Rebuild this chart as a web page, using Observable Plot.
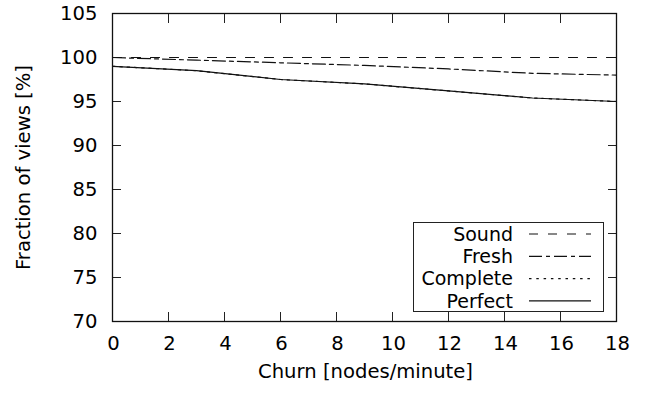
<!DOCTYPE html>
<html>
<head>
<meta charset="utf-8">
<script src="https://cdn.jsdelivr.net/npm/d3@7"></script>
<script src="https://cdn.jsdelivr.net/npm/@observablehq/plot@0.6"></script>
<style>
  html, body { margin: 0; padding: 0; background: #fff; }
  #wrap { position: relative; width: 646px; height: 394px; font-family: "DejaVu Sans", sans-serif; }
  #legend { position: absolute; left: 0; top: 0; }
</style>
</head>
<body>
<div id="wrap"></div>
<script>
// ---- data ----
const churn = [0, 3, 6, 9, 12, 15, 18];
const sound    = [100, 100, 100, 100, 100, 100, 100];
const fresh    = [100, 99.7, 99.4, 99.1, 98.7, 98.2, 98.0];
const complete = [99.0, 98.5, 97.5, 97.0, 96.2, 95.4, 95.0];
const perfect  = [99.0, 98.5, 97.5, 97.0, 96.2, 95.4, 95.0];
const seriesNames = ["Sound", "Fresh", "Complete", "Perfect"];
const seriesValues = [sound, fresh, complete, perfect];
const dashes = ["9,10", "13,4,4,4", "2.5,4.8", null];
const xTicks = [0, 2, 4, 6, 8, 10, 12, 14, 16, 18];
const yTicks = [70, 75, 80, 85, 90, 95, 100, 105];
const xLabel = "Churn [nodes/minute]";
const yLabel = "Fraction of views [%]";

const rows = [];
seriesNames.forEach((name, i) => churn.forEach((c, j) => rows.push({series: name, x: c, y: seriesValues[i][j]})));

const FS = 19.6;
const LFS = 19;
const blank = () => "";
const lineMarks = seriesNames.map((name, i) =>
  Plot.line(rows.filter(d => d.series === name), {
    x: "x", y: "y", stroke: "#111", strokeWidth: 1.2,
    strokeDasharray: dashes[i] ?? undefined
  })
);

const chart = Plot.plot({
  width: 646, height: 394,
  marginLeft: 112, marginRight: 30, marginTop: 13, marginBottom: 73,
  style: {fontFamily: "DejaVu Sans, sans-serif", fontSize: FS + "px", color: "#000", background: "#fff"},
  x: {domain: [0, 18]},
  y: {domain: [70, 105]},
  marks: [
    // labels
    Plot.axisX({ticks: xTicks, tickSize: 0, tickPadding: 15, label: null, fontSize: FS, dx: 1}),
    Plot.axisY({ticks: yTicks, tickSize: 0, tickPadding: 15, label: null, fontSize: FS}),
    // inward ticks (all four sides)
    Plot.axisX({ticks: xTicks, anchor: "bottom", tickSize: 9, dy: -9, tickFormat: blank, label: null, stroke: "#222"}),
    Plot.axisX({ticks: xTicks, anchor: "top", tickSize: 9, dy: 9, tickFormat: blank, label: null, stroke: "#222"}),
    Plot.axisY({ticks: yTicks, anchor: "left", tickSize: 9, dx: 9, tickFormat: blank, label: null, stroke: "#222"}),
    Plot.axisY({ticks: yTicks, anchor: "right", tickSize: 9, dx: -9, tickFormat: blank, label: null, stroke: "#222"}),
    ...lineMarks,
    Plot.frame({stroke: "#111", strokeWidth: 1.3}),
    Plot.text([xLabel], {frameAnchor: "bottom", dy: 56, dx: 1, fontSize: FS, fill: "#000", textAnchor: "middle"}),
    Plot.text([yLabel], {frameAnchor: "left", dx: -89, rotate: -90, fontSize: FS, fill: "#000", textAnchor: "middle"})
  ]
});
const wrap = document.getElementById("wrap");
wrap.appendChild(chart);

// ---- legend overlay ----
const leg = d3.select(wrap).append("svg")
  .attr("id", "legend").attr("width", 646).attr("height", 394)
  .style("font-family", "DejaVu Sans, sans-serif").style("font-size", LFS + "px");
leg.append("rect").attr("x", 413.5).attr("y", 222.5).attr("width", 190).attr("height", 89)
  .attr("fill", "#fff").attr("stroke", "#222").attr("stroke-width", 1);
seriesNames.forEach((name, i) => {
  const cy = 234 + i * 22.3;
  leg.append("text").attr("x", 513).attr("y", cy).attr("dy", "0.35em")
    .attr("text-anchor", "end").attr("fill", "#000").text(name);
  const ln = leg.append("line").attr("x1", 529).attr("x2", 591).attr("y1", cy).attr("y2", cy)
    .attr("stroke", "#111").attr("stroke-width", 1.2);
  if (dashes[i]) ln.attr("stroke-dasharray", dashes[i]);
});
</script>
</body>
</html>
